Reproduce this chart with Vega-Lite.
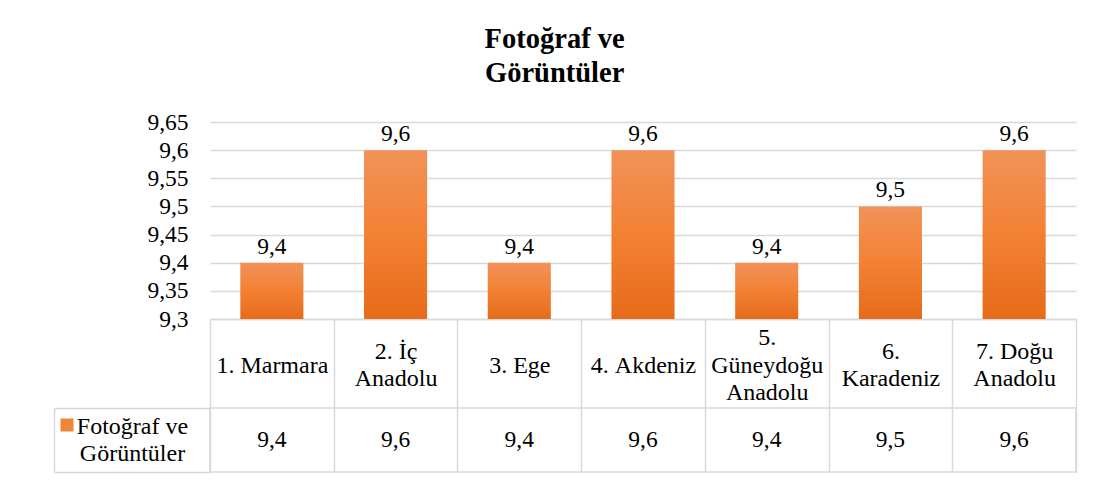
{
  "$schema": "https://vega.github.io/schema/vega-lite/v6.json",
  "background": "white",
  "padding": {"left": 52, "top": 24, "right": 10, "bottom": 5},
  "config": {
    "font": "Liberation Serif",
    "view": {"stroke": null},
    "locale": {"number": {"decimal": ",", "thousands": ".", "grouping": [3], "currency": ["", " TL"]}}
  },
  "title": {
    "text": ["Fotoğraf ve", "Görüntüler"],
    "font": "Liberation Serif",
    "fontSize": 28.5,
    "fontWeight": "bold",
    "color": "#000000",
    "lineHeight": 34,
    "anchor": "middle",
    "dx": -10,
    "offset": 23
  },
  "datasets": {
    "scores": [
      {"region": "1. Marmara", "series": "Fotoğraf ve Görüntüler", "value": 9.4},
      {"region": "2. İç Anadolu", "series": "Fotoğraf ve Görüntüler", "value": 9.6},
      {"region": "3. Ege", "series": "Fotoğraf ve Görüntüler", "value": 9.4},
      {"region": "4. Akdeniz", "series": "Fotoğraf ve Görüntüler", "value": 9.6},
      {"region": "5. Güneydoğu Anadolu", "series": "Fotoğraf ve Görüntüler", "value": 9.4},
      {"region": "6. Karadeniz", "series": "Fotoğraf ve Görüntüler", "value": 9.5},
      {"region": "7. Doğu Anadolu", "series": "Fotoğraf ve Görüntüler", "value": 9.6}
    ]
  },
  "bounds": "flush",
  "spacing": 89,
  "vconcat": [
    {
      "width": 866,
      "height": 197,
      "data": {"name": "scores"},
      "encoding": {
        "x": {
          "field": "region",
          "type": "nominal",
          "sort": null,
          "scale": {"paddingInner": 0, "paddingOuter": 0},
          "axis": {
            "title": null,
            "orient": "bottom",
            "domain": true,
            "domainColor": "#D9D9D9",
            "domainWidth": 1.5,
            "ticks": true,
            "tickBand": "extent",
            "tickSize": 89,
            "tickColor": "#D9D9D9",
            "tickWidth": 1.5,
            "grid": false,
            "labelAngle": 0,
            "labelBaseline": "middle",
            "labelPadding": -70.5,
            "labelFont": "Liberation Serif",
            "labelFontSize": 24,
            "labelLineHeight": 13.75,
            "labelColor": "#000000",
            "labelLimit": 300,
            "labelOverlap": false,
            "labelExpr": "datum.label == '' ? '' : datum.label == '2. İç Anadolu' ? ['\u2800', '2. İç', '\u2800', 'Anadolu'] : datum.label == '5. Güneydoğu Anadolu' ? ['5.', '\u2800', 'Güneydoğu', '\u2800', 'Anadolu'] : datum.label == '6. Karadeniz' ? ['\u2800', '6.', '\u2800', 'Karadeniz'] : datum.label == '7. Doğu Anadolu' ? ['\u2800', '7. Doğu', '\u2800', 'Anadolu'] : ['\u2800', '\u2800', datum.label]"
          }
        },
        "y": {
          "field": "value",
          "type": "quantitative",
          "scale": {"domain": [9.3, 9.65], "zero": false, "nice": false},
          "axis": {
            "title": null,
            "values": [9.3, 9.35, 9.4, 9.45, 9.5, 9.55, 9.6, 9.65],
            "format": ".3~r",
            "labelOverlap": false,
            "domain": false,
            "ticks": false,
            "tickSize": 0,
            "labelPadding": 22,
            "labelFont": "Liberation Serif",
            "labelFontSize": 23.5,
            "labelColor": "#000000",
            "grid": true,
            "gridColor": "#D9D9D9",
            "gridWidth": 1.5
          }
        }
      },
      "layer": [
        {
          "mark": {
            "type": "bar",
            "width": {"band": 0.51},
            "color": {
              "gradient": "linear",
              "x1": 0, "y1": 0, "x2": 0, "y2": 1,
              "stops": [
                {"offset": 0, "color": "#F19259"},
                {"offset": 0.5, "color": "#F38133"},
                {"offset": 1, "color": "#E66B1A"}
              ]
            }
          },
          "encoding": {
            "y2": {"datum": 9.3}
          }
        },
        {
          "mark": {
            "type": "text",
            "baseline": "alphabetic",
            "dy": -9,
            "font": "Liberation Serif",
            "fontSize": 23.5,
            "color": "#000000"
          },
          "encoding": {
            "text": {"field": "value", "type": "quantitative", "format": ".1f"}
          }
        }
      ]
    },
    {
      "width": 866,
      "height": 64,
      "view": {"stroke": "#D9D9D9", "strokeWidth": 1.5},
      "data": {"name": "scores"},
      "encoding": {
        "x": {
          "field": "region",
          "type": "nominal",
          "sort": null,
          "scale": {"paddingInner": 0, "paddingOuter": 0},
          "axis": {
            "title": null,
            "labels": false,
            "ticks": false,
            "domain": false,
            "grid": true,
            "tickBand": "extent",
            "gridColor": "#D9D9D9",
            "gridWidth": 1.5
          }
        },
        "y": {
          "field": "series",
          "type": "nominal",
          "scale": {"paddingInner": 0, "paddingOuter": 0},
          "axis": {
            "title": null,
            "offset": 156,
            "domain": true,
            "domainColor": "#D9D9D9",
            "domainWidth": 1.5,
            "ticks": true,
            "tickBand": "extent",
            "tickSize": -156,
            "tickColor": "#D9D9D9",
            "tickWidth": 1.5,
            "grid": false,
            "labelAlign": "center",
            "labelBaseline": "middle",
            "labelPadding": 78,
            "labelOffset": -13.5,
            "labelFont": "Liberation Serif",
            "labelFontSize": 24,
            "labelLineHeight": 27,
            "labelColor": "#000000",
            "labelLimit": 300,
            "labelOverlap": false,
            "labelExpr": "datum.label == '' ? '' : ['Fotoğraf ve', 'Görüntüler']"
          }
        }
      },
      "layer": [
        {
          "mark": {
            "type": "text",
            "font": "Liberation Serif",
            "fontSize": 23.5,
            "color": "#000000",
            "baseline": "middle"
          },
          "encoding": {
            "text": {"field": "value", "type": "quantitative", "format": ".1f"}
          }
        },
        {
          "mark": {"type": "square", "opacity": 0},
          "encoding": {
            "color": {
              "field": "series",
              "type": "nominal",
              "scale": {"range": ["#EF8537"]},
              "legend": {
                "orient": "none",
                "legendX": -149.5,
                "legendY": 296.5,
                "title": null,
                "padding": 0,
                "symbolType": "square",
                "symbolSize": 169,
                "symbolOpacity": 1,
                "symbolStrokeWidth": 0,
                "labelExpr": "''",
                "labelFontSize": 1
              }
            }
          }
        }
      ]
    }
  ]
}
